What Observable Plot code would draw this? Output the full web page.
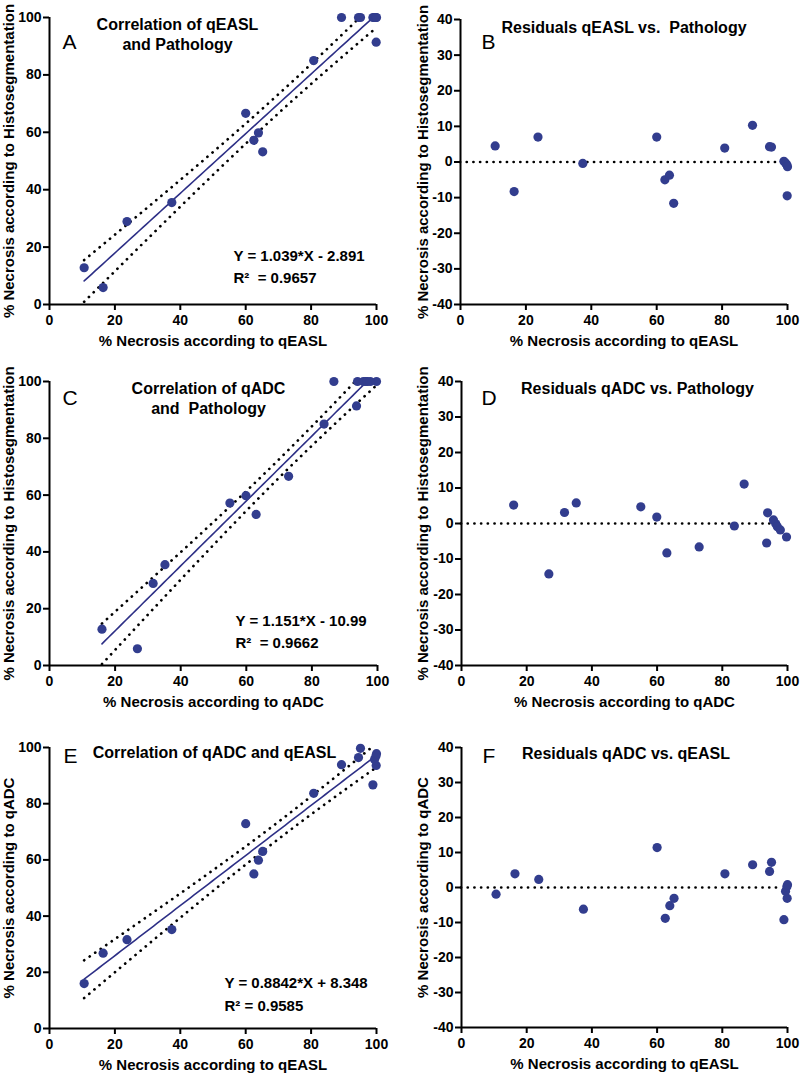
<!DOCTYPE html>
<html>
<head>
<meta charset="utf-8">
<script src="https://cdn.jsdelivr.net/npm/d3@7"></script>
<script src="https://cdn.jsdelivr.net/npm/@observablehq/plot@0.6"></script>
<style>
  html, body { margin: 0; padding: 0; background: #fff; }
  #wrap { position: relative; width: 800px; height: 1075px; overflow: hidden; background: #fff; }
  #wrap svg { position: absolute; overflow: visible; }
  svg text { white-space: pre; }
</style>
</head>
<body>
<div id="wrap"></div>
<script>
// ---- data (17 patients) ----
const qEASL = [10.6, 16.4, 23.7, 37.4, 60.0, 62.5, 63.9, 65.2, 80.8, 89.3, 94.5, 95.1, 98.9, 99.9, 99.4, 99.8, 100.0];
const qADC  = [16.0, 26.8, 31.6, 35.2, 72.9, 55.0, 59.9, 63.0, 83.7, 93.9, 96.4, 99.7, 86.7, 93.6, 95.7, 96.9, 97.8];
const histo = [12.8, 5.9, 28.9, 35.5, 66.6, 57.2, 59.8, 53.2, 85.0, 100, 100, 100, 100, 91.4, 100, 100, 100];
// residuals as plotted in panels B, D, F
const residB = [4.5, -8.3, 7.0, -0.4, 7.0, -5.0, -3.7, -11.6, 3.9, 10.3, 4.3, 4.2, 0.2, -9.5, -0.3, -0.8, -1.3];
const residD = [5.2, -14.2, 3.1, 5.8, -6.6, 4.7, 1.8, -8.3, -0.7, 3.0, -0.1, -3.8, 11.1, -5.5, 1.0, -0.9, -1.8];
const residF = [-1.9, 3.9, 2.3, -6.2, 11.4, -8.8, -5.2, -3.1, 3.9, 6.5, 4.6, 7.2, -9.2, -3.1, -1.1, 0.2, 0.8];

const xTicks = [0, 20, 40, 60, 80, 100];
const corrTicks = [0, 20, 40, 60, 80, 100];
const resTicks = [-40, -30, -20, -10, 0, 10, 20, 30, 40];

const panelLetters = ["A", "B", "C", "D", "E", "F"];
const panelTitles = [
  "Correlation of qEASL\nand Pathology",
  "Residuals qEASL vs.  Pathology",
  "Correlation of qADC\nand  Pathology",
  "Residuals qADC vs. Pathology",
  "Correlation of qADC and qEASL",
  "Residuals qADC vs. qEASL"
];
const xLabels = [
  "% Necrosis according to qEASL", "% Necrosis according to qEASL",
  "% Necrosis according to qADC", "% Necrosis according to qADC",
  "% Necrosis according to qEASL", "% Necrosis according to qEASL"
];
const yLabels = [
  "% Necrosis according to Histosegmentation", "% Necrosis according to Histosegmentation",
  "% Necrosis according to Histosegmentation", "% Necrosis according to Histosegmentation",
  "% Necrosis according to qADC", "% Necrosis according to qADC"
];
const equations = ["Y = 1.039*X - 2.891", null, "Y = 1.151*X - 10.99", null, "Y = 0.8842*X + 8.348", null];
const rSquared = ["R\u00b2  = 0.9657", null, "R\u00b2  = 0.9662", null, "R\u00b2 = 0.9585", null];

// ---- styles ----
const DOT = "#323d8e";
const LINE = "#2d2f86";
const FONT = "'Liberation Sans', Arial, Helvetica, sans-serif";
const T95 = 2.131; // t(0.975, df = 15)
const DOTTED = {stroke: "#000", strokeWidth: 2.7, strokeDasharray: "0.1,6.6", strokeLinecap: "round"};

function fitBand(xs, ys) {
  const n = xs.length;
  const mx = d3.mean(xs), my = d3.mean(ys);
  let sxx = 0, sxy = 0;
  for (let i = 0; i < n; i++) { sxx += (xs[i] - mx) ** 2; sxy += (xs[i] - mx) * (ys[i] - my); }
  const b = sxy / sxx, a = my - b * mx;
  let sse = 0;
  for (let i = 0; i < n; i++) sse += (ys[i] - (a + b * xs[i])) ** 2;
  const s = Math.sqrt(sse / (n - 2));
  const [x0, x1] = d3.extent(xs);
  return d3.range(81).map(i => {
    const x = x0 + (x1 - x0) * i / 80;
    const f = a + b * x;
    const h = T95 * s * Math.sqrt(1 / n + (x - mx) ** 2 / sxx);
    return {x, fit: f, lo: f - h, hi: f + h};
  });
}

const panels = [
  {left: 0,   top: 0,   height: 360, m: [17, 24, 56, 49], xs: qEASL, ys: histo,  kind: "corr",
   letter: [13, 31], title: [128, 32, 1.19], eq: [184, 243, 265], ylabDx: -36},
  {left: 400, top: 0,   height: 360, m: [19, 13, 56, 60], xs: qEASL, ys: residB, kind: "res",
   letter: [21, 29], title: [163.5, 13, 1], ylabDx: -33},
  {left: 0,   top: 360, height: 360, m: [21, 23, 55, 49], xs: qADC,  ys: histo,  kind: "corr",
   letter: [13, 23], title: [159, 32, 1.25], eq: [186, 244, 266], ylabDx: -36},
  {left: 400, top: 360, height: 360, m: [21, 13, 55, 61], xs: qADC,  ys: residD, kind: "res",
   letter: [20, 23], title: [176, 12, 1], ylabDx: -34},
  {left: 0,   top: 720, height: 355, m: [27, 24, 47, 49], xs: qEASL, ys: qADC,   kind: "corr",
   letter: [14, 15], title: [165, 10, 1], eq: [175, 240, 263], ylabDx: -36},
  {left: 400, top: 720, height: 355, m: [27, 13, 48, 61], xs: qEASL, ys: residF, kind: "res",
   letter: [21, 15], title: [164.5, 11, 1], ylabDx: -34}
];

const wrap = document.getElementById("wrap");

panels.forEach((p, k) => {
  const data = p.xs.map((x, i) => ({x, y: p.ys[i]}));
  const corr = p.kind === "corr";
  const yDomain = corr ? [0, 100] : [-40, 40];
  const marks = [];
  if (corr) {
    const band = fitBand(p.xs, p.ys);
    marks.push(
      Plot.line(band, {x: "x", y: "hi", ...DOTTED, clip: true}),
      Plot.line(band, {x: "x", y: "lo", ...DOTTED, clip: true}),
      Plot.line(band, {x: "x", y: "fit", stroke: LINE, strokeWidth: 1.6, clip: true})
    );
  } else {
    marks.push(Plot.ruleY([0], {...DOTTED, x1: 0, x2: 98}));
  }
  marks.push(
    Plot.dot(data, {x: "x", y: "y", r: 4.6, fill: DOT, stroke: "none"}),
    Plot.ruleX([0], {stroke: "#000", strokeWidth: 2}),
    Plot.ruleY([yDomain[0]], {stroke: "#000", strokeWidth: 2}),
    Plot.axisX(xTicks, {tickSize: 6, tickPadding: 5, strokeWidth: 2, tickFormat: d => String(d), label: null,
      fontSize: 14, fontWeight: "bold"}),
    Plot.axisY(corr ? corrTicks : resTicks, {tickSize: 6, tickPadding: 2, strokeWidth: 2, tickFormat: d => String(d),
      label: null, fontSize: 14, fontWeight: "bold"}),
    Plot.text([xLabels[k]], {frameAnchor: "bottom", dy: 41, lineAnchor: "bottom", textAnchor: "middle",
      fontSize: 15, fontWeight: "bold"}),
    Plot.text([yLabels[k]], {frameAnchor: "left", dx: p.ylabDx, rotate: -90, lineAnchor: "bottom",
      textAnchor: "middle", fontSize: 15, fontWeight: "bold"}),
    Plot.text([panelLetters[k]], {frameAnchor: "top-left", dx: p.letter[0], dy: p.letter[1], textAnchor: "start",
      lineAnchor: "bottom", fontSize: 21, fontWeight: "normal"}),
    Plot.text([panelTitles[k]], {frameAnchor: "top-left", dx: p.title[0], dy: p.title[1], textAnchor: "middle",
      lineAnchor: "bottom", lineHeight: p.title[2], fontSize: 16, fontWeight: "bold"})
  );
  if (equations[k]) {
    marks.push(
      Plot.text([equations[k]], {frameAnchor: "top-left", dx: p.eq[0], dy: p.eq[1], textAnchor: "start",
        lineAnchor: "bottom", fontSize: 15, fontWeight: "bold"}),
      Plot.text([rSquared[k]], {frameAnchor: "top-left", dx: p.eq[0], dy: p.eq[2], textAnchor: "start",
        lineAnchor: "bottom", fontSize: 15, fontWeight: "bold"})
    );
  }
  const svg = Plot.plot({
    width: 400,
    height: p.height,
    marginTop: p.m[0], marginRight: p.m[1], marginBottom: p.m[2], marginLeft: p.m[3],
    x: {domain: [0, 100], axis: null},
    y: {domain: yDomain, axis: null},
    style: {fontFamily: FONT, fontSize: "14px", color: "#000", background: "transparent", overflow: "visible"},
    marks
  });
  svg.style.left = p.left + "px";
  svg.style.top = p.top + "px";
  wrap.appendChild(svg);
});
</script>
</body>
</html>
